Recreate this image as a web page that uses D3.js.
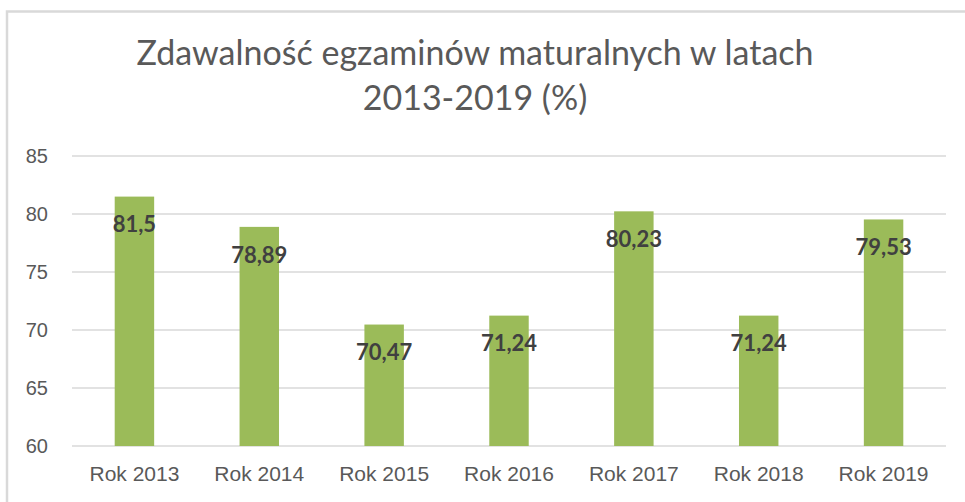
<!DOCTYPE html>
<html>
<head>
<meta charset="utf-8">
<script src="https://cdn.jsdelivr.net/npm/d3@7"></script>
<style>
    body { margin: 0; background: #fff; }
    svg { display: block; font-family: Lato, "Open Sans", sans-serif; }
    .axis text { fill: #595959; }
</style>
</head>
<body>
<div id="chart"></div>
<script>
const years = ['Rok 2013', 'Rok 2014', 'Rok 2015', 'Rok 2016', 'Rok 2017', 'Rok 2018', 'Rok 2019']
const values = [81.5, 78.89, 70.47, 71.24, 80.23, 71.24, 79.53]
const yTicks = [60, 65, 70, 75, 80, 85]
const titleLines = ['Zdawalność egzaminów maturalnych w latach', '2013-2019 (%)']

const numFmt = d => d3.format('~f')(d).replace('.', ',')

const W = 965, H = 502
const margin = {top: 156, right: 19, bottom: 56, left: 72}
const width = W - margin.left - margin.right
const height = H - margin.top - margin.bottom

const svg = d3.select('#chart').append('svg')
    .attr('width', W)
    .attr('height', H)

// outer chart border (runs off the right/bottom edge)
svg.append('rect')
    .attr('x', 7)
    .attr('y', 11.5)
    .attr('width', W + 20)
    .attr('height', H + 20)
    .attr('fill', 'none')
    .attr('stroke', '#d9d9d9')
    .attr('stroke-width', 2.5)

svg.append('text')
    .attr('x', 475)
    .attr('y', 65)
    .attr('text-anchor', 'middle')
    .attr('fill', '#595959')
    .style('font-size', '34px')
  .selectAll('tspan')
  .data(titleLines)
  .join('tspan')
    .attr('x', 475)
    .attr('dy', (d, i) => i ? 45 : 0)
    .text(d => d)

const g = svg.append('g')
    .attr('transform', `translate(${margin.left},${margin.top})`)

let x = d3.scaleBand()
    .domain(years)
    .range([0, width])
    .paddingInner(0.684)
    .paddingOuter(0.342)

let y = d3.scaleLinear()
    .domain([60, 85])
    .range([height, 0])

// gridlines
g.append('g')
    .selectAll('line')
    .data(yTicks)
    .join('line')
    .attr('x1', 0)
    .attr('x2', width)
    .attr('y1', d => y(d))
    .attr('y2', d => y(d))
    .attr('stroke', '#d9d9d9')
    .attr('stroke-width', 1.5)

const yAxis = g.append('g')
    .attr('class', 'axis')
    .call(d3.axisLeft(y).tickValues(yTicks).tickSize(0).tickPadding(24))
yAxis.select('.domain').remove()
yAxis.selectAll('text').style('font-size', '20px').attr('font-family', null)

const xAxis = g.append('g')
    .attr('class', 'axis')
    .attr('transform', `translate(0,${height})`)
    .call(d3.axisBottom(x).tickSize(0).tickPadding(20))
xAxis.select('.domain').remove()
xAxis.selectAll('text').style('font-size', '21px').attr('font-family', null)

g.append('g')
    .selectAll('.bar')
    .data(values)
    .join('rect')
    .attr('class', 'bar')
    .attr('x', (d, i) => x(years[i]))
    .attr('y', d => y(d))
    .attr('width', x.bandwidth())
    .attr('height', d => height - y(d))
    .attr('fill', '#9bbb59')

g.append('g')
    .selectAll('.lbl')
    .data(values)
    .join('text')
    .attr('class', 'lbl')
    .attr('x', (d, i) => x(years[i]) + x.bandwidth() / 2)
    .attr('y', d => y(d) + 28)
    .attr('dy', '0.35em')
    .attr('text-anchor', 'middle')
    .attr('fill', '#404040')
    .style('font-size', '22px')
    .style('font-weight', 'bold')
    .text(d => numFmt(d))
</script>
</body>
</html>
